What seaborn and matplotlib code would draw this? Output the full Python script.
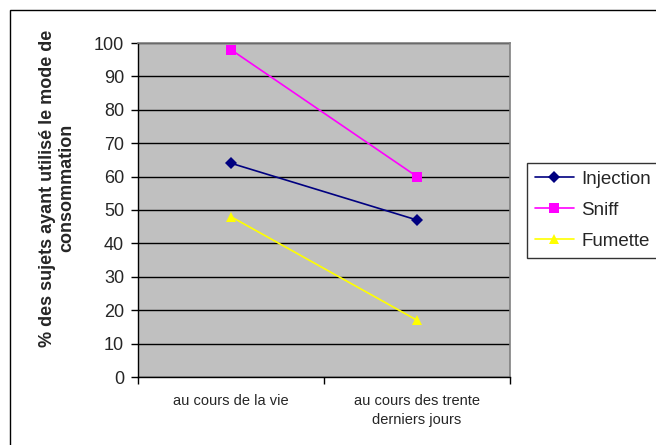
import matplotlib
matplotlib.use("Agg")
import matplotlib.pyplot as plt
import matplotlib.patches as mpatches
import seaborn as sns
import pandas as pd

periodes = ["au cours de la vie", "au cours des trente\nderniers jours"]
modes = ["Injection", "Sniff", "Fumette"]
injection = [64, 47]
sniff = [98, 60]
fumette = [48, 17]
yticks = [0, 10, 20, 30, 40, 50, 60, 70, 80, 90, 100]

rows = []
for m, vals in zip(modes, [injection, sniff, fumette]):
    for p, v in zip(periodes, vals):
        rows.append({"periode": p, "pct": v, "mode": m})
df = pd.DataFrame(rows)

sns.set_theme(style="white")
plt.rcParams["font.family"] = ["Liberation Sans", "DejaVu Sans"]

fig = plt.figure(figsize=(6.56, 4.45), dpi=100)
ax = fig.add_axes([138/656, 1-377/445, 372/656, 334/445])

palette = {"Injection": "#000080", "Sniff": "#FF00FF", "Fumette": "#FFFF00"}
markers = {"Injection": "D", "Sniff": "s", "Fumette": "^"}
sns.lineplot(data=df, x="periode", y="pct", hue="mode", style="mode",
             markers=markers, dashes=False, palette=palette, sort=False,
             linewidth=1.2, markersize=6.5, markeredgewidth=0, ax=ax)

ax.set_facecolor("#C0C0C0")
ax.set_xlim(-0.5, 1.5)
ax.set_ylim(0, 100)
ax.set_yticks(yticks)
ax.yaxis.grid(True, color="black", linewidth=1)
ax.xaxis.grid(False)
ax.set_axisbelow(True)
for s in ["top", "right"]:
    ax.spines[s].set_color("#808080")
    ax.spines[s].set_linewidth(1.2)
for s in ["left", "bottom"]:
    ax.spines[s].set_color("black")
    ax.spines[s].set_linewidth(1)

ax.tick_params(axis="y", which="major", direction="out", length=5, width=1,
               color="black", labelsize=13, pad=5, left=True)
ax.tick_params(axis="x", which="major", length=0, labelsize=10.5, pad=12)
ax.set_xticks([-0.5, 0.5, 1.5], minor=True)
ax.tick_params(axis="x", which="minor", direction="out", length=5, width=1,
               color="black", bottom=True)
for lab in ax.get_xticklabels():
    lab.set_horizontalalignment("center")
    lab.set_multialignment("center")
    lab.set_linespacing(1.5)

ax.set_xlabel("")
ax.set_ylabel("% des sujets ayant utilisé le mode de\nconsommation",
              fontsize=13, fontweight="bold", linespacing=1.15)
ax.yaxis.label.set_va("center")
ax.yaxis.set_label_coords((57-138)/372, (377-188)/334)

handles, labels = ax.get_legend_handles_labels()
if ax.legend_:
    ax.legend_.remove()
leg = fig.legend(handles, labels, loc="upper left",
                 bbox_to_anchor=(527/656, 1-163/445), fontsize=13.5,
                 frameon=True, fancybox=False, edgecolor="black",
                 handlelength=2.1, handletextpad=0.4, labelspacing=0.75,
                 borderpad=0.4, borderaxespad=0)
leg.get_frame().set_linewidth(1)

fig.patches.append(mpatches.Rectangle((10/656, -0.05), 1.0, 1-10/445+0.05,
                                      transform=fig.transFigure, fill=False,
                                      edgecolor="black", linewidth=1))

fig.savefig("out.png", dpi=100)
